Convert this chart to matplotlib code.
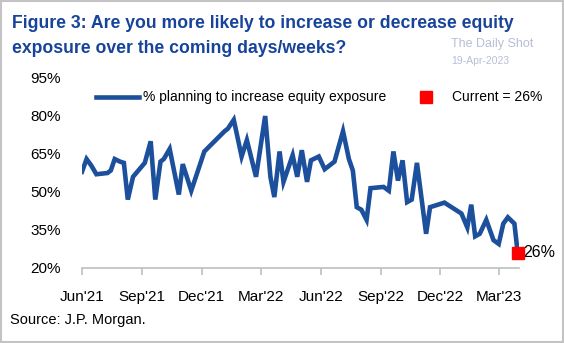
import matplotlib
matplotlib.use("Agg")
import matplotlib.pyplot as plt
import matplotlib.patches as mpatches
import pandas as pd

# Survey dates and share planning to increase equity exposure (%)
dates = [
    "2021-06-01", "2021-06-08", "2021-06-15", "2021-06-23", "2021-07-10", "2021-07-15",
    "2021-07-21", "2021-07-29", "2021-08-04", "2021-08-10", "2021-08-18", "2021-09-05",
    "2021-09-14", "2021-09-21", "2021-09-29", "2021-10-04", "2021-10-13", "2021-10-27",
    "2021-11-02", "2021-11-15", "2021-12-05", "2022-01-05", "2022-01-10", "2022-01-19",
    "2022-01-31", "2022-02-08", "2022-02-22", "2022-03-08", "2022-03-16", "2022-03-22",
    "2022-03-30", "2022-04-05", "2022-04-19", "2022-04-26", "2022-05-03", "2022-05-11",
    "2022-05-17", "2022-05-29", "2022-06-07", "2022-06-22", "2022-07-05", "2022-07-14",
    "2022-07-20", "2022-07-26", "2022-08-02", "2022-08-10", "2022-08-16", "2022-09-05",
    "2022-09-13", "2022-09-20", "2022-09-27", "2022-10-04", "2022-10-11", "2022-10-18",
    "2022-10-26", "2022-11-09", "2022-11-15", "2022-12-07", "2023-01-02", "2023-01-11",
    "2023-01-17", "2023-01-23", "2023-01-30", "2023-02-09", "2023-02-20", "2023-02-28",
    "2023-03-07", "2023-03-14", "2023-03-24", "2023-03-29",
]
pct_increase = [
    58, 63, 60.5, 57, 57.5, 58.5,
    63, 62, 61.5, 47, 56, 61.5,
    70, 47, 62, 63, 67, 49,
    61, 50.5, 66, 74, 75, 78.5,
    64, 70.5, 56, 80, 56, 48,
    66, 54, 64.5, 56, 66.5, 54,
    62.5, 64, 59, 62, 74, 63,
    58.5, 44, 43, 39, 51.5, 52,
    50.5, 66, 54.5, 62.5, 46, 47,
    61.5, 33.5, 44, 45.8, 41.5, 36,
    45, 32.5, 33.5, 39, 31, 29.5,
    37.5, 40, 37.5, 26,
]
current = pct_increase[-1]

tick_dates = ["2021-06-01", "2021-09-01", "2021-12-01", "2022-03-01",
              "2022-06-01", "2022-09-01", "2022-12-01", "2023-03-01"]
tick_labels = ["Jun'21", "Sep'21", "Dec'21", "Mar'22",
               "Jun'22", "Sep'22", "Dec'22", "Mar'23"]
y_ticks = [20, 35, 50, 65, 80, 95]

plt.rcParams["font.family"] = ["Liberation Sans", "DejaVu Sans"]

x = pd.to_datetime(dates)
blue = "#1c4f9c"

fig = plt.figure(figsize=(5.64, 3.43), dpi=100)
ax = fig.add_axes([0.1454, 0.2187, 0.7748, 0.5539])

ax.plot(x, pct_increase, color=blue, lw=3.3, solid_joinstyle="miter",
        label="% planning to increase equity exposure")
ax.plot(x[-1:], [current], ls="none", marker="s", ms=8.5, color="#ff0000",
        clip_on=False, zorder=5, label=f"Current = {current:.0f}%")
ax.text(x[-1] + pd.Timedelta(days=8), current, f"{current:.0f}%",
        fontsize=11.5, va="center", ha="left")

ax.set_ylim(20, 95)
ax.set_yticks(y_ticks)
ax.set_yticklabels([f"{v}%" for v in y_ticks], fontsize=11)
ax.set_xlim(x[0], pd.Timestamp("2023-03-31"))
ax.set_xticks(pd.to_datetime(tick_dates))
ax.set_xticklabels(tick_labels, fontsize=11)

for s in ["top", "right", "left"]:
    ax.spines[s].set_visible(False)
ax.spines["bottom"].set_color("#bfbfbf")
ax.spines["bottom"].set_linewidth(1.2)
ax.tick_params(axis="y", length=0, pad=15)
ax.tick_params(axis="x", length=5, color="#bfbfbf", width=1.2, pad=11)

ax.legend(loc="upper left", bbox_to_anchor=(0.004, 1.0), ncol=2, frameon=False,
          fontsize=10, handlelength=3.1, handletextpad=0.3, columnspacing=1.3)

title_color = "#17449a"
fig.text(0.021, 0.918, "Figure 3: Are you more likely to increase or decrease equity",
         weight="bold", fontsize=12.7, color=title_color, va="baseline", ha="left")
fig.text(0.021, 0.845, "exposure over the coming days/weeks?",
         weight="bold", fontsize=12.7, color=title_color, va="baseline", ha="left")
fig.text(0.873, 0.873, "The Daily Shot", fontsize=9, color="#b9bdd6", ha="center", va="center")
fig.text(0.851, 0.822, "19-Apr-2023", fontsize=7.5, color="#b9bdd6", ha="center", va="center")
fig.text(0.018, 0.067, "Source: J.P. Morgan.", fontsize=10.5, ha="left", va="center")

fig.patches.append(mpatches.Rectangle((0.002, 0.003), 0.996, 0.994, transform=fig.transFigure,
                                      fill=False, edgecolor="#c3c3c3", lw=1.5))

fig.savefig("out.png", dpi=100)
